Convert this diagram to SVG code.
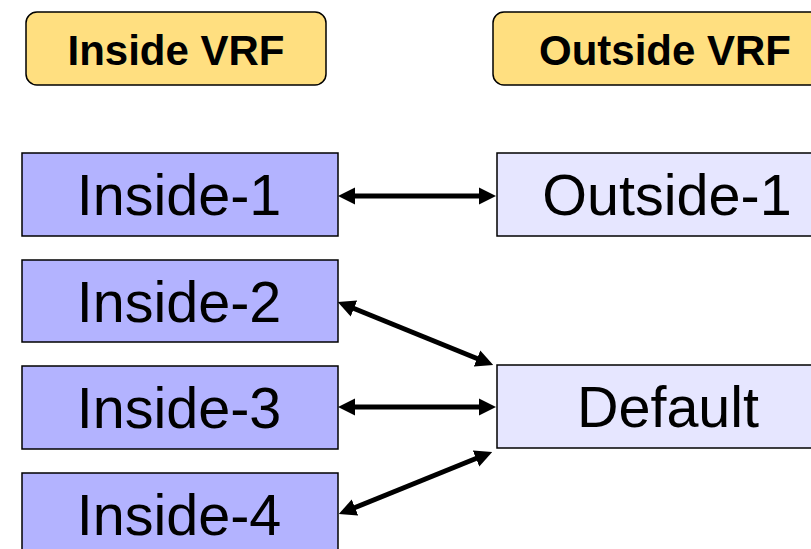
<svg xmlns="http://www.w3.org/2000/svg" width="811" height="549" viewBox="0 0 811 549">
<style>
.hdr{fill:#FFDF80;stroke:#000;stroke-width:1.5}
.in{fill:#B3B3FF;stroke:#000;stroke-width:1.5}
.out{fill:#E6E6FF;stroke:#000;stroke-width:1.5}
.ht{font-family:"Liberation Sans",Arial,sans-serif;font-weight:bold;font-size:42px;fill:#000;text-anchor:middle}
.nt{font-family:"Liberation Sans",Arial,sans-serif;font-size:57.5px;fill:#000;text-anchor:middle}
.c{stroke:#000;stroke-width:5;fill:none;marker-start:url(#a);marker-end:url(#a)}
</style>
<defs>
<marker id="a" viewBox="0 0 10 10" refX="5.3" refY="5" markerWidth="3.5" markerHeight="3.6" orient="auto-start-reverse" markerUnits="strokeWidth">
<path d="M0,0 L10,5 L0,10 Z" fill="#000"/>
</marker>
</defs>
<g id="hdr-inside"><rect class="hdr" x="26" y="12" width="300" height="73" rx="11"/><text class="ht" x="176" y="65">Inside VRF</text></g>
<g id="hdr-outside"><rect class="hdr" x="493" y="12" width="340" height="73" rx="11"/><text class="ht" x="665" y="65">Outside VRF</text></g>
<g id="inside-1"><rect class="in" x="22" y="153" width="316" height="83"/><text class="nt" x="179" y="215">Inside-1</text></g>
<g id="inside-2"><rect class="in" x="22" y="260" width="316" height="82"/><text class="nt" x="179" y="322">Inside-2</text></g>
<g id="inside-3"><rect class="in" x="22" y="366" width="316" height="83"/><text class="nt" x="179" y="428">Inside-3</text></g>
<g id="inside-4"><rect class="in" x="22" y="473" width="316" height="90"/><text class="nt" x="179" y="535">Inside-4</text></g>
<g id="outside-1"><rect class="out" x="497" y="153" width="340" height="83"/><text class="nt" x="667" y="215">Outside-1</text></g>
<g id="default"><rect class="out" x="497" y="365" width="340" height="83"/><text class="nt" x="668" y="427">Default</text></g>
<g id="connectors">
<line class="c" x1="346" y1="196" x2="488" y2="196"/>
<line class="c" x1="345.4" y1="305" x2="485.6" y2="362"/>
<line class="c" x1="346" y1="407" x2="488" y2="407"/>
<line class="c" x1="346.4" y1="511" x2="484.6" y2="455"/>
</g>
</svg>
